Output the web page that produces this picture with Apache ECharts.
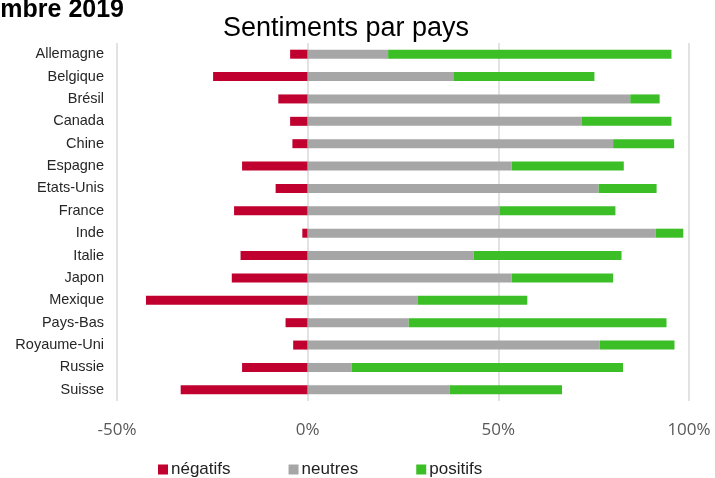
<!DOCTYPE html>
<html><head><meta charset="utf-8">
<script src="https://cdn.jsdelivr.net/npm/echarts@6/dist/echarts.min.js"></script>
<style>html,body{margin:0;padding:0;background:#fff}#c{width:715px;height:478px}</style>
</head><body><div id="c"></div>
<script>
const categories = ['Allemagne','Belgique','Brésil','Canada','Chine','Espagne','Etats-Unis','France','Inde','Italie','Japon','Mexique','Pays-Bas','Royaume-Uni','Russie','Suisse'];
const negatifs = [-4.6,-24.8,-7.7,-4.6,-4.0,-17.2,-8.4,-19.3,-1.4,-17.6,-19.9,-42.4,-5.8,-3.8,-17.2,-33.3];
const neutres = [21.1,38.2,84.6,71.8,80.1,53.5,76.3,50.3,91.3,43.5,53.5,28.8,26.5,76.6,11.5,37.2];
const positifs = [74.3,37.0,7.7,23.6,16.0,29.4,15.2,30.4,7.2,38.8,26.6,28.8,67.6,19.6,71.2,29.5];
const seriesNames = ['négatifs','neutres','positifs'];

const chart = echarts.init(document.getElementById('c'));
chart.setOption({
  animation: false,
  title: {
    text: 'Sentiments par pays', left: 341, top: 10, textAlign: 'center',
    textStyle: {fontFamily: 'Liberation Sans', fontSize: 27, fontWeight: 'normal', color: '#000'}
  },
  graphic: [{
    type: 'text', x: 124, y: 23,
    style: {text: 'Novembre 2019', fontFamily: 'Liberation Sans', fontSize: 25, fontWeight: 'bold', fill: '#000', textAlign: 'right', textVerticalAlign: 'bottom'}
  }],
  legend: {
    data: seriesNames, left: 153, top: 456, itemWidth: 10, itemHeight: 10, itemGap: 58,
    icon: 'rect',
    textStyle: {fontFamily: 'Liberation Sans', fontSize: 17, color: '#222', padding: [0,0,0,-2]}
  },
  grid: {left: 117, right: 26, top: 43, bottom: 77},
  xAxis: {
    type: 'value', min: -50, max: 100, interval: 50,
    axisLabel: {formatter: '{value}%', fontFamily: 'Open Sans', fontSize: 17, color: '#595959', margin: 21},
    splitLine: {lineStyle: {color: '#d9d9d9', width: 1.5}},
    axisLine: {show: false}, axisTick: {show: false}
  },
  yAxis: {
    type: 'category', data: categories, inverse: true,
    axisLine: {show: false, onZero: false}, axisTick: {show: false},
    axisLabel: {fontFamily: 'Liberation Sans', fontSize: 14.5, color: '#262626', margin: 13}
  },
  series: [
    {name: seriesNames[0], type: 'bar', stack: 'tot', data: negatifs, barWidth: 9, itemStyle: {color: '#c0002f'}},
    {name: seriesNames[1], type: 'bar', stack: 'tot', data: neutres, barWidth: 9, itemStyle: {color: '#a6a6a6'}},
    {name: seriesNames[2], type: 'bar', stack: 'tot', data: positifs, barWidth: 9, itemStyle: {color: '#3bbe26'}}
  ]
});
</script></body></html>
